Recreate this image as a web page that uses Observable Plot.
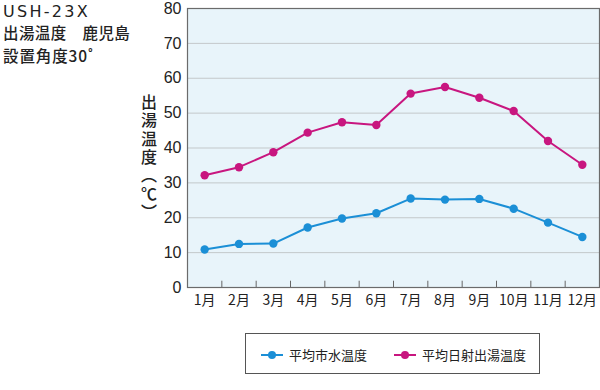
<!DOCTYPE html>
<html><head><meta charset="utf-8">
<script src="https://cdn.jsdelivr.net/npm/d3@7"></script>
<script src="https://cdn.jsdelivr.net/npm/@observablehq/plot@0.6"></script>
<style>
html,body{margin:0;padding:0;background:#fff;}
#wrap{position:relative;width:600px;height:390px;font-family:"Noto Sans CJK JP","Noto Sans",sans-serif;color:#222;}
.tl{position:absolute;left:3px;font-size:15.5px;line-height:18px;font-weight:500;white-space:nowrap;}
#ylab{position:absolute;left:139px;top:94px;writing-mode:vertical-rl;text-orientation:mixed;font-size:16px;line-height:20px;letter-spacing:2.3px;font-weight:500;white-space:nowrap;}
#legend{position:absolute;left:245px;top:333px;width:295px;height:41px;border:1px solid #555;box-sizing:border-box;font-size:13px;}
.li{position:absolute;top:11px;display:flex;align-items:center;white-space:nowrap;}
.sw{position:relative;width:22px;height:2px;margin-right:6px;}
.sw i{position:absolute;left:7px;top:-3px;width:8px;height:8px;border-radius:50%;}
</style></head>
<body>
<div id="wrap">
<div id="chart"></div>
<div id="title"></div>
<div id="ylab"></div>
<div id="legend"></div>
</div>
<script>
const months = ["1月","2月","3月","4月","5月","6月","7月","8月","9月","10月","11月","12月"];
const waterTemp = [10.9,12.5,12.6,17.2,19.8,21.3,25.5,25.2,25.4,22.6,18.6,14.5];
const hotWaterTemp = [32.2,34.5,38.8,44.4,47.4,46.6,55.6,57.5,54.4,50.6,42.0,35.2];
const yTicks = [0,10,20,30,40,50,60,70,80];
const seriesNames = ["平均市水温度","平均日射出湯温度"];
const seriesColors = ["#1b8fd6","#c8167f"];
const titleLines = ["USH-23X","出湯温度　鹿児島","設置角度30˚"];
const yLabel = "出湯温度（℃）";

const idx = months.map((m,i)=>i+1);
const bounds = idx.slice(0,-1).map(i=>i+0.5);
const rows = [];
idx.forEach((m,i)=>{
  rows.push({m, v: waterTemp[i], s: seriesNames[0]});
  rows.push({m, v: hotWaterTemp[i], s: seriesNames[1]});
});

const chart = Plot.plot({
  width: 600, height: 390,
  marginLeft: 187, marginRight: 1, marginTop: 8, marginBottom: 103,
  style: {fontFamily: "'Liberation Sans', Arial, sans-serif", background: "transparent"},
  x: {type: "linear", domain: [0.5, 12.5], axis: null},
  y: {domain: [0, 80], axis: null},
  color: {domain: seriesNames, range: seriesColors},
  marks: [
    Plot.frame({fill: "#e8f4fa", stroke: "none"}),
    Plot.gridY(yTicks, {stroke: "#c3c8ca", strokeOpacity: 1, strokeWidth: 1}),
    Plot.axisY(yTicks, {tickSize: 0, tickPadding: 6, fontSize: 16, fill: "#222", label: null}),
    Plot.axisX(idx, {tickSize: 0, tickPadding: 8, fontSize: 14, fill: "#222", label: null, tickFormat: d => months[d-1],
      fontFamily: "'Noto Sans CJK JP', sans-serif"}),
    Plot.ruleX(bounds, {y1: 0, y2: 1.8, stroke: "#666", strokeWidth: 1}),
    Plot.line(rows, {x: "m", y: "v", z: "s", stroke: "s", strokeWidth: 2}),
    Plot.dot(rows, {x: "m", y: "v", fill: "s", r: 4.2}),
    Plot.frame({stroke: "#6b6b6b", strokeWidth: 1.2})
  ]
});
document.getElementById("chart").appendChild(chart);

const tEl = document.getElementById("title");
const tops = [3, 23, 46];
titleLines.forEach((t,i)=>{
  const d = document.createElement("div");
  d.className = "tl"; d.style.top = tops[i] + "px";
  d.textContent = t;
  if (i === 0) { d.style.fontFamily = "'DejaVu Sans', sans-serif"; d.style.fontSize = "16px"; d.style.letterSpacing = "2.3px"; d.style.fontWeight = "400"; }
  if (i === 1) { d.style.letterSpacing = "0.4px"; }
  if (i === 2) { d.style.letterSpacing = "0.9px"; }
  tEl.appendChild(d);
});
document.getElementById("ylab").textContent = yLabel;
const lg = document.getElementById("legend");
const lefts = [15, 148];
seriesNames.forEach((n,i)=>{
  const d = document.createElement("div");
  d.className = "li"; d.style.left = lefts[i] + "px";
  d.innerHTML = `<span class="sw" style="background:${seriesColors[i]}"><i style="background:${seriesColors[i]}"></i></span><span>${n}</span>`;
  lg.appendChild(d);
});
</script>
</body></html>
